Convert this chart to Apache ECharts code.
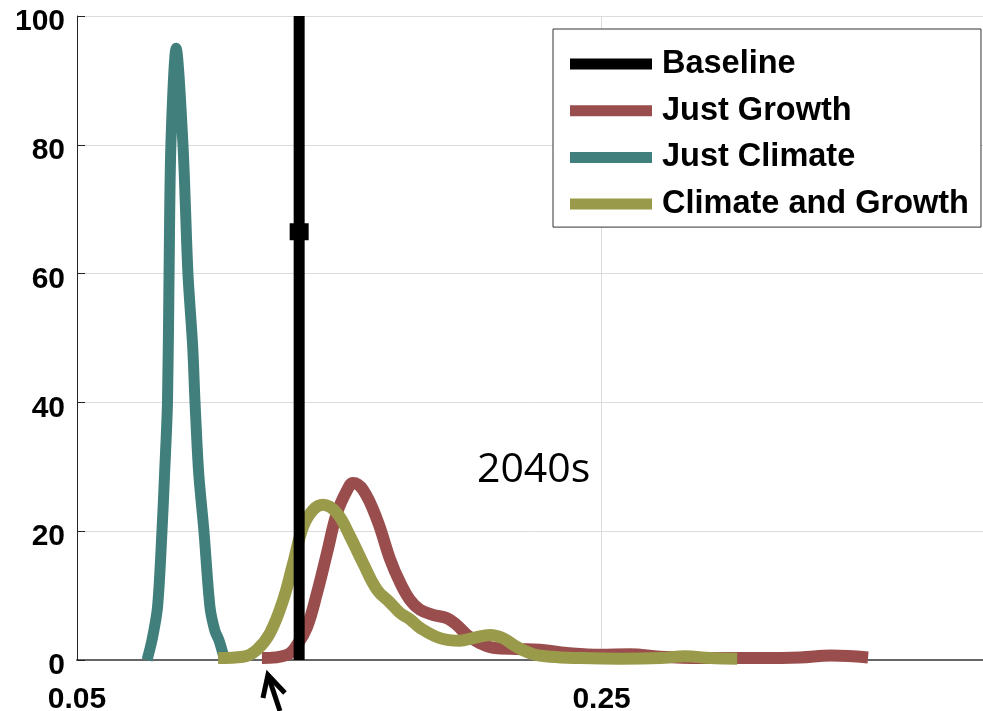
<!DOCTYPE html>
<html>
<head>
<meta charset="utf-8">
<script src="https://cdn.jsdelivr.net/npm/echarts@6/dist/echarts.min.js"></script>
<style>html,body{margin:0;padding:0;background:#fff}#c{width:983px;height:711px}</style>
</head>
<body>
<div id="c"></div>
<script>
// ---- data ----
const seriesNames = ['Baseline', 'Just Growth', 'Just Climate', 'Climate and Growth'];
const xTicks = [0.05, 0.25];
const yTicks = [0, 20, 40, 60, 80, 100];

const baselineX = [0.1347, 0.1347, 0.1347];
const baselineY = [0, 66.5, 100];

const growthX = [0.1205, 0.1301, 0.1343, 0.1377, 0.1415, 0.1453, 0.1491, 0.1530, 0.1552, 0.1591, 0.1644, 0.1694, 0.1732, 0.1770, 0.1808, 0.1858, 0.1911, 0.1949, 0.1987, 0.2037, 0.2086, 0.2178, 0.2266, 0.2368, 0.2494, 0.2609, 0.2723, 0.2876, 0.3104, 0.3257, 0.3375, 0.3516];
const growthY = [0.3, 0.8, 2.6, 5.1, 10.4, 16.6, 22.8, 26.4, 27.5, 26.4, 21.8, 15.6, 12.0, 9.3, 7.8, 7.0, 6.5, 5.4, 3.9, 2.6, 1.9, 1.7, 1.6, 1.1, 0.8, 0.9, 0.5, 0.3, 0.3, 0.4, 0.7, 0.4];

const climateX = [0.0767, 0.0786, 0.0807, 0.0824, 0.0834, 0.0845, 0.0851, 0.0858, 0.0878, 0.0904, 0.0923, 0.0941, 0.0950, 0.0964, 0.0984, 0.1007, 0.1026, 0.1041, 0.1061];
const climateY = [0, 3.1, 8.2, 20, 29, 40, 60, 80, 95, 80, 60, 48.7, 40, 29, 20, 8.2, 4.5, 3.1, 0.3];

const bothX = [0.1038, 0.1133, 0.1186, 0.1236, 0.1286, 0.1324, 0.1362, 0.1400, 0.1438, 0.1491, 0.1541, 0.1591, 0.1644, 0.1694, 0.1732, 0.1770, 0.1808, 0.1884, 0.1960, 0.2010, 0.2075, 0.2124, 0.2178, 0.2239, 0.2304, 0.2418, 0.2571, 0.2723, 0.2818, 0.2914, 0.3017];
const bothY = [0.3, 0.5, 1.6, 4.2, 9.3, 15, 20.7, 23.3, 24.1, 22.8, 19.2, 15, 10.9, 8.9, 7.3, 6.3, 5.0, 3.4, 3.0, 3.4, 3.9, 3.4, 2.0, 0.9, 0.5, 0.3, 0.2, 0.3, 0.6, 0.3, 0.2];

const periodLabel = '2040s';
const periodPos = [0.2025, 29.8];
const arrowX = 0.1228;

// ---- chart ----
const FONT = '"Liberation Sans", Arial, sans-serif';
function pairs(xs, ys) { return xs.map((x, i) => [x, ys[i]]); }

const chart = echarts.init(document.getElementById('c'), null, {renderer: 'canvas'});

const option = {
  animation: false,
  backgroundColor: '#fff',
  grid: {left: 77, width: 918, top: 16, bottom: 51, containLabel: false, outerBoundsMode: 'none'},
  legend: {
    data: seriesNames,
    orient: 'vertical',
    left: 553, top: 29,
    icon: 'rect',
    itemWidth: 82, itemHeight: 11,
    itemGap: 10.7,
    padding: [17, 12, 5, 17],
    backgroundColor: '#fff',
    borderColor: '#333', borderWidth: 1,
    selectedMode: false,
    textStyle: {fontFamily: FONT, fontWeight: 'bold', fontSize: 32.5, color: '#000', lineHeight: 36, padding: [0, 0, 0, 5]}
  },
  xAxis: {
    type: 'value', min: 0.05, max: 0.4, interval: 0.2,
    axisLine: {show: true, onZero: false, lineStyle: {color: '#666', width: 2}},
    axisTick: {show: true, inside: true, length: 7, lineStyle: {color: '#222'}, customValues: xTicks},
    axisLabel: {customValues: xTicks, margin: 25, fontFamily: FONT, fontWeight: 'bold', fontSize: 30, color: '#000', formatter: v => String(v)},
    splitLine: {show: true, lineStyle: {color: '#dcdcdc', width: 1}}
  },
  yAxis: {
    type: 'value', min: yTicks[0], max: yTicks[yTicks.length - 1], interval: 20,
    axisLine: {show: true, lineStyle: {color: '#222', width: 1}},
    axisTick: {show: true, inside: true, length: 8, lineStyle: {color: '#222'}},
    axisLabel: {margin: 12, verticalAlign: 'top', lineHeight: 12, fontFamily: FONT, fontWeight: 'bold', fontSize: 30, color: '#000'},
    splitLine: {show: true, lineStyle: {color: '#dcdcdc', width: 1}}
  },
  series: [
    {
      name: seriesNames[0], type: 'line', z: 10,
      color: '#000',
      lineStyle: {color: '#000', width: 11},
      itemStyle: {color: '#000'},
      showSymbol: true,
      data: baselineX.map((x, i) => ({value: [x, baselineY[i]], symbol: i === 1 ? 'rect' : 'none', symbolSize: [19, 17]}))
    },
    {
      name: seriesNames[1], type: 'line', z: 2, color: '#9A4D4D',
      lineStyle: {width: 12}, showSymbol: false, smooth: 0.4,
      data: pairs(growthX, growthY)
    },
    {
      name: seriesNames[2], type: 'line', z: 3, color: '#417F7D',
      lineStyle: {width: 11}, showSymbol: false, smooth: 0.3,
      data: pairs(climateX, climateY)
    },
    {
      name: seriesNames[3], type: 'line', z: 4, color: '#9A9A4B',
      lineStyle: {width: 12}, showSymbol: false, smooth: 0.4,
      data: pairs(bothX, bothY)
    }
  ]
};
chart.setOption(option);

// annotations anchored to data coordinates
const tp = chart.convertToPixel({gridIndex: 0}, periodPos);
const ap = chart.convertToPixel({gridIndex: 0}, [arrowX, 0]);
const tipX = ap[0], tipY = ap[1] + 15;
chart.setOption({
  graphic: [
    {
      type: 'text', left: tp[0], top: tp[1] - 18, z: 20,
      style: {text: periodLabel, font: '41px "Open Sans", "Noto Sans", sans-serif', fill: '#000'}
    },
    {
      type: 'polyline', z: 20,
      shape: {points: [[tipX + 12, tipY + 36], [tipX, tipY]]},
      style: {stroke: '#000', lineWidth: 5, fill: null}
    },
    {
      type: 'polyline', z: 20,
      shape: {points: [[tipX - 5, tipY + 23], [tipX, tipY], [tipX + 17, tipY + 18]]},
      style: {stroke: '#000', lineWidth: 5, fill: null, lineJoin: 'miter'}
    }
  ]
});
</script>
</body>
</html>
